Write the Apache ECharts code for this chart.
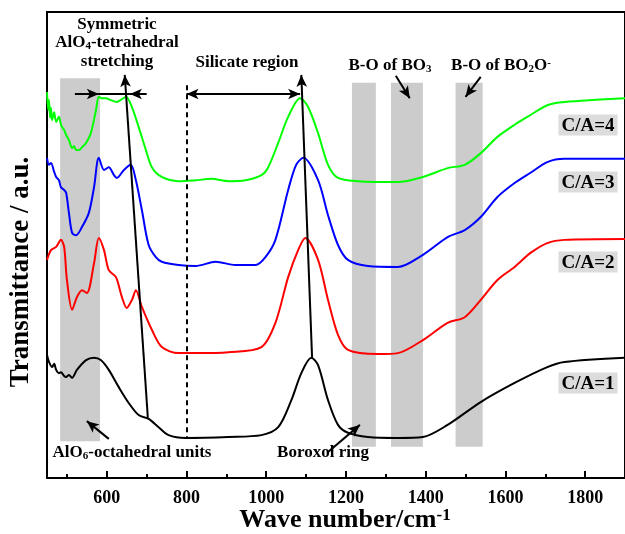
<!DOCTYPE html>
<html>
<head>
<meta charset="utf-8">
<script src="https://cdn.jsdelivr.net/npm/echarts@6/dist/echarts.min.js"></script>
<style>
html, body { margin: 0; padding: 0; background: #fff; }
#chartBox { width: 625px; height: 534px; }
</style>
</head>
<body>
<div id="chartBox"></div>
<script>
// spectra, [wave number, transmittance (a.u., offset)]
const ca1 = [[450,26.4],[455,24.9],[463,23.8],[468,24.5],[473,23.2],[480,22.5],[485,22.7],[493,21.9],[498,21.7],[505,22.1],[513,21.5],[525,23.2],[548,25.3],[568,25.8],[585,25.3],[605,23.2],[630,19.5],[655,16.1],[680,13.5],[705,12.7],[730,10.9],[755,9.2],[798,8.6],[905,8.8],[988,9.2],[1030,10.9],[1063,16.7],[1088,22.5],[1113,25.8],[1130,24.2],[1155,16.7],[1180,11.4],[1205,9.7],[1255,8.8],[1330,8.6],[1393,8.8],[1455,11.4],[1538,16.3],[1623,20.4],[1705,23.8],[1748,24.9],[1900,25.8]]
const ca2 = [[450,46.8],[460,48.9],[473,49.6],[485,51.1],[493,49.6],[500,42.5],[513,36.1],[525,38.8],[538,40.3],[550,39.7],[568,46.1],[580,51.5],[593,48.9],[605,44.6],[623,43.1],[638,38.8],[650,36.5],[663,38.2],[673,40.3],[688,36.7],[713,31.8],[738,28.1],[780,26.8],[823,26.8],[905,27.0],[988,28.1],[1023,33.3],[1055,43.1],[1080,48.9],[1098,51.5],[1130,46.8],[1155,38.2],[1180,30.7],[1205,27.5],[1280,26.6],[1330,26.8],[1393,29.6],[1455,33.3],[1498,34.5],[1538,38.2],[1580,42.5],[1623,45.3],[1663,48.3],[1705,50.4],[1748,51.1],[1900,51.3]]
const ca3 = [[450,68.7],[455,67.2],[460,67.6],[468,65.7],[473,64.6],[480,63.9],[485,62.4],[493,61.8],[498,61.2],[505,56.9],[513,52.6],[523,52.1],[538,53.9],[555,56.9],[568,62.4],[580,68.7],[593,66.1],[605,66.7],[618,65.0],[625,64.4],[643,66.1],[660,67.2],[673,63.9],[688,57.5],[705,50.0],[723,47.4],[738,46.4],[780,45.7],[823,45.5],[873,46.4],[923,45.7],[973,45.7],[998,47.4],[1023,51.1],[1055,61.8],[1075,67.2],[1093,68.7],[1130,63.9],[1155,56.4],[1180,50.0],[1205,46.8],[1255,45.5],[1330,45.3],[1393,47.9],[1455,51.7],[1498,53.2],[1538,56.0],[1580,60.3],[1623,63.3],[1663,65.5],[1705,67.8],[1748,68.5],[1900,68.5]]
const ca4 = [[450,82.8],[453,79.0],[455,81.1],[458,77.3],[460,79.4],[463,76.8],[468,78.5],[473,76.4],[480,77.5],[485,75.8],[488,75.3],[493,74.7],[498,73.6],[505,72.5],[513,70.8],[518,71.2],[523,70.4],[530,70.4],[538,71.0],[548,71.9],[560,74.0],[573,79.0],[580,81.8],[588,81.5],[598,81.5],[610,81.1],[625,80.7],[638,81.3],[648,81.8],[663,79.6],[680,75.3],[698,70.4],[713,66.7],[738,64.6],[780,63.7],[823,63.9],[863,64.2],[905,63.7],[948,63.9],[988,65.0],[1005,66.7],[1030,71.9],[1055,77.5],[1085,81.5],[1105,79.6],[1130,74.0],[1155,67.2],[1180,64.4],[1230,63.7],[1330,63.5],[1393,64.6],[1455,66.5],[1498,67.2],[1538,69.7],[1580,73.2],[1623,75.8],[1663,77.9],[1705,80.0],[1748,80.7],[1900,81.5]]

const names = ['C/A=1', 'C/A=2', 'C/A=3', 'C/A=4']
const colors = ['#000000', '#ff0000', '#0000ff', '#00ff00']

// grey assignment bands [from, to, bottom, top]
const bands = [[483, 583, 7.9, 85.8], [1215, 1275, 6.7, 84.8], [1313, 1393, 6.7, 84.8], [1475, 1543, 6.7, 84.8]]
// arrows [x1, y1, x2, y2, head at start, head at end]
const arrows = [
  [800, 82.4, 1085, 82.4, true, true],
  [520, 82.4, 580, 82.4, false, true],
  [580, 82.4, 658, 82.4, false, false],
  [700, 82.4, 658, 82.4, false, true],
  [703, 12.9, 645, 86.5, false, true],
  [1115, 25.8, 1088, 86.5, false, true],
  [1325, 86.3, 1360, 81.5, false, true],
  [1538, 86.1, 1500, 81.8, false, true],
  [605, 8.4, 550, 12.2, false, true],
  [1155, 5.6, 1235, 11.4, false, true]
]

const serif = '"Liberation Serif", "Times New Roman", serif'

function txt(x, y, text, size, extra) {
  let small = Math.round(size * 0.65)
  return Object.assign({
    type: 'text',
    x: x,
    y: y,
    z: 100,
    style: {
      text: text,
      fontFamily: serif,
      fontWeight: 'bold',
      fontSize: size,
      fill: '#000',
      align: 'center',
      verticalAlign: 'middle',
      rich: {
        sub: { fontSize: small, fontWeight: 'bold', fontFamily: serif, verticalAlign: 'bottom' },
        sup: { fontSize: small, fontWeight: 'bold', fontFamily: serif, verticalAlign: 'top' }
      }
    }
  }, extra || {})
}

function caLabel(y, text) {
  let t = txt(588, y, text, 19)
  t.style.backgroundColor = '#dcdcdc'
  t.style.padding = [2, 3, 0, 3]
  return t
}

let myChart = echarts.init(document.getElementById('chartBox'))
myChart.setOption({
  animation: false,
  grid: {
    left: 47,
    top: 12,
    width: 580,
    bottom: 56,
    show: true,
    borderColor: '#000',
    borderWidth: 2
  },
  xAxis: {
    type: 'value',
    min: 450,
    max: 1900,
    splitNumber: 7,
    axisLine: { lineStyle: { color: '#000', width: 2 } },
    axisTick: { inside: true, length: 7, lineStyle: { color: '#000', width: 2 } },
    minorTick: { show: true, splitNumber: 2, length: 4, lineStyle: { color: '#000', width: 2 } },
    splitLine: { show: false },
    axisLabel: {
      showMinLabel: false,
      showMaxLabel: false,
      formatter: v => String(v),
      color: '#000',
      fontFamily: serif,
      fontWeight: 'bold',
      fontSize: 18,
      margin: 11
    }
  },
  yAxis: {
    type: 'value',
    min: 0,
    max: 100,
    axisLine: { show: true, lineStyle: { color: '#000', width: 2 } },
    axisTick: { show: false },
    axisLabel: { show: false },
    splitLine: { show: false }
  },
  series: [
    {
      type: 'line',
      data: [],
      z: 1,
      silent: true,
      markArea: {
        silent: true,
        itemStyle: { color: '#cccccc' },
        data: bands.map(b => [{ coord: [b[0], b[2]] }, { coord: [b[1], b[3]] }])
      },
      markLine: {
        silent: true,
        symbol: 'none',
        label: { show: false },
        lineStyle: { color: '#000', width: 2, type: [5, 4] },
        data: [[{ coord: [800, 84.3] }, { coord: [800, 8.6] }]]
      }
    }
  ].concat([ca1, ca2, ca3, ca4].map((d, i) => ({
    name: names[i],
    type: 'line',
    data: d,
    z: 3,
    smooth: 0.3,
    symbol: 'none',
    lineStyle: { color: colors[i], width: 2 }
  }))).concat([
    {
      type: 'line',
      data: [],
      z: 5,
      markLine: {
        silent: true,
        symbolSize: [8, 12],
        label: { show: false },
        lineStyle: { color: '#000', width: 2, type: 'solid' },
        data: arrows.map(a => [
          { coord: [a[0], a[1]], symbol: a[4] ? 'arrow' : 'none' },
          { coord: [a[2], a[3]], symbol: a[5] ? 'arrow' : 'none' }
        ])
      }
    }
  ]),
  graphic: [
    txt(117, 25, 'Symmetric', 17),
    txt(117, 43, 'AlO{sub|4}-tetrahedral', 17),
    txt(117, 62, 'stretching', 17),
    txt(247, 63, 'Silicate region', 17),
    txt(390, 66, 'B-O of BO{sub|3}', 17),
    txt(501, 66, 'B-O of BO{sub|2}O{sup|-}', 17),
    txt(132, 453, 'AlO{sub|6}-octahedral units', 17),
    txt(323, 453, 'Boroxol ring', 17),
    caLabel(125, 'C/A=4'),
    caLabel(182, 'C/A=3'),
    caLabel(262, 'C/A=2'),
    caLabel(383, 'C/A=1'),
    txt(21, 272, 'Transmittance / a.u.', 27, { rotation: Math.PI / 2 }),
    txt(345, 520, 'Wave number/cm{sup|-1}', 26)
  ]
})
</script>
</body>
</html>
